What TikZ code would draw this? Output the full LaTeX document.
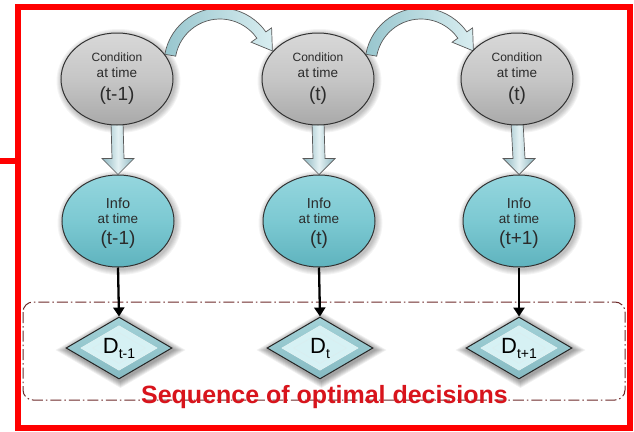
\documentclass[tikz,border=0pt]{standalone}
\usepackage{fontspec}
\setmainfont{Liberation Sans}
\usetikzlibrary{shapes.geometric,arrows.meta,calc}
\pgfdeclarelayer{bg}
\pgfsetlayers{bg,main}
\definecolor{framered}{HTML}{FF0000}
\definecolor{txt}{HTML}{2B2B2B}
\definecolor{grayhi}{HTML}{D8D8D8}
\definecolor{graymid}{HTML}{C6C6C6}
\definecolor{graylo}{HTML}{A9A9A9}
\definecolor{tealhi}{HTML}{95D6DE}
\definecolor{tealmid}{HTML}{7CC9D2}
\definecolor{teallo}{HTML}{5FB3BE}
\definecolor{diaout}{HTML}{A3D2D8}
\definecolor{diaoutlo}{HTML}{86BAC2}
\definecolor{diain}{HTML}{D6F1F4}
\definecolor{arrhi}{HTML}{E4F1F3}
\definecolor{arrlo}{HTML}{8CB6C0}
\definecolor{curvlo}{HTML}{98C6CE}
\definecolor{curvhi}{HTML}{D8EDF0}
\definecolor{boxline}{HTML}{6E2A2A}
\definecolor{seqred}{HTML}{D8141C}
\tikzset{
  condnode/.style={ellipse, draw=black!80, line width=1pt, minimum width=112pt, minimum height=92pt, inner sep=0pt,
    top color=grayhi, bottom color=graylo, middle color=graymid},
  infonode/.style={ellipse, draw=black!80, line width=1pt, minimum width=112pt, minimum height=92pt, inner sep=0pt,
    top color=tealhi, bottom color=teallo, middle color=tealmid},
  dianode/.style={diamond, draw=black!85, line width=1pt, minimum width=106pt, minimum height=62pt, inner sep=0pt,
    top color=diaout, bottom color=diaoutlo, text=black,
    path picture={
      \fill[diain, draw=white!70!diaout, line width=0.6pt]
        ($(path picture bounding box.center)!0.72!(path picture bounding box.north)$) --
        ($(path picture bounding box.center)!0.72!(path picture bounding box.east)$) --
        ($(path picture bounding box.center)!0.72!(path picture bounding box.south)$) --
        ($(path picture bounding box.center)!0.72!(path picture bounding box.west)$) -- cycle;
      \draw[white!60!diaout, line width=0.5pt]
        ($(path picture bounding box.center)!0.5!(path picture bounding box.north)$) --
        ($(path picture bounding box.center)!0.5!(path picture bounding box.east)$) --
        ($(path picture bounding box.center)!0.5!(path picture bounding box.south)$) --
        ($(path picture bounding box.center)!0.5!(path picture bounding box.west)$) -- cycle;
    }},
  smalltxt/.style={text=txt, inner sep=0pt, font=\fontsize{12}{14}\selectfont},
  midtxt/.style={text=txt, inner sep=0pt, font=\fontsize{13.5}{16}\selectfont},
  infotxt/.style={text=txt, inner sep=0pt, font=\fontsize{14.5}{17}\selectfont},
  bigtxt/.style={text=txt, inner sep=0pt, font=\fontsize{19}{22}\selectfont},
  fatarrow/.style={left color=arrlo, right color=arrlo, middle color=arrhi, draw=black!65, line width=0.7pt},
  curvarrow/.style={left color=curvlo, right color=curvhi, draw=black!65, line width=0.7pt},
  thinarrow/.style={draw=black, line width=2.3pt, -{Triangle[length=9pt,width=11pt]}},
  dashbox/.style={draw=boxline, line width=1pt, rounded corners=10pt, dash pattern=on 11pt off 3pt on 1.5pt off 3pt},
  seqtxt/.style={text=seqred, inner sep=0pt, font=\fontsize{25}{28}\selectfont\bfseries}
}
\newcommand\Dlab[1]{\fontsize{22}{24}\selectfont D\raisebox{-5pt}{\fontsize{14}{16}\selectfont #1}}
\begin{document}
\begin{tikzpicture}[x=1pt,y=-1pt]
\useasboundingbox (0,0) rectangle (634,431);

% red frame
\draw[framered, line width=6pt] (18,6.5) rectangle (630,428);
\draw[framered, line width=6pt] (0,161) -- (18,161);

% dashed group box
\draw[dashbox] (23,302) rectangle (625,400);

% nodes
\node[condnode] (c1) at (117,79) {};
\node[condnode] (c2) at (318,79) {};
\node[condnode] (c3) at (517,79) {};
\node[infonode] (i1) at (118,221) {};
\node[infonode] (i2) at (319,221) {};
\node[infonode] (i3) at (519,221) {};
\node[dianode] (d1) at (119,348) {\Dlab{t-1}};
\node[dianode] (d2) at (320,348) {\Dlab{t}};
\node[dianode] (d3) at (519,348) {\Dlab{t+1}};

% texts in condition ellipses
\foreach \n/\lab in {c1/(t-1), c2/(t), c3/(t)} {
  \node[smalltxt] (\n a) at ($(\n)+(0,-22)$) {Condition};
  \node[midtxt] (\n b) at ($(\n)+(0,-6)$) {at time};
  \node[bigtxt] (\n c) at ($(\n)+(0,17)$) {\lab};
}
% texts in info ellipses
\foreach \n/\lab in {i1/(t-1), i2/(t), i3/(t+1)} {
  \node[infotxt] (\n a) at ($(\n)+(0,-18)$) {Info};
  \node[midtxt] (\n b) at ($(\n)+(0,-2)$) {at time};
  \node[bigtxt] (\n c) at ($(\n)+(0,19)$) {\lab};
}

% thin arrows
\draw[thinarrow] (i1.south) -- (d1.north);
\draw[thinarrow] (i2.south) -- (d2.north);
\draw[thinarrow] (i3.south) -- (d3.north);

\begin{pgfonlayer}{bg}
\fill[white] (0,0) rectangle (634,431);
% glow shadows
\foreach \n in {c1,c2,c3,i1,i2,i3} {
  \foreach \k in {1,...,6} {
    \fill[black, opacity=0.045] ($(\n)+(1.5,2)$) ellipse[x radius=56+\k, y radius=46+\k];
  }
}
\foreach \n in {d1,d2,d3} {
  \foreach \k in {1,...,7} {
    \fill[black, opacity=0.06] ($(\n)+(1.5,2)+(-53-1.7*\k,0)$) -- ($(\n)+(1.5,2)+(0,-31-\k)$)
      -- ($(\n)+(1.5,2)+(53+1.7*\k,0)$) -- ($(\n)+(1.5,2)+(0,31+\k)$) -- cycle;
  }
}
% fat vertical arrows
\foreach \a/\b in {c1/i1, c2/i2, c3/i3} {
  \path[fatarrow] ($(\a.south)+(-6,-4)$) -- ($(\b.north)+(-6,-16)$) -- ($(\b.north)+(-16,-16)$)
    -- (\b.north) -- ($(\b.north)+(16,-16)$) -- ($(\b.north)+(6,-16)$) -- ($(\a.south)+(6,-4)$) -- cycle;
}
% curved arrows between condition ellipses
\foreach \cx in {220,421} {
  \coordinate (cc) at (\cx,64);
  \path[curvarrow] ($(cc)+(190:56)$) arc[start angle=190, end angle=325, radius=56]
    -- ($(cc)+(325:63)$) -- ($(cc)+(346:54)$) -- ($(cc)+(325:38)$) -- ($(cc)+(325:45)$)
    arc[start angle=325, end angle=190, radius=45] -- cycle;
}
\end{pgfonlayer}

% caption
\node[seqtxt] (seq) at (324.5,397) {Sequence of optimal decisions};
\end{tikzpicture}
\end{document}
